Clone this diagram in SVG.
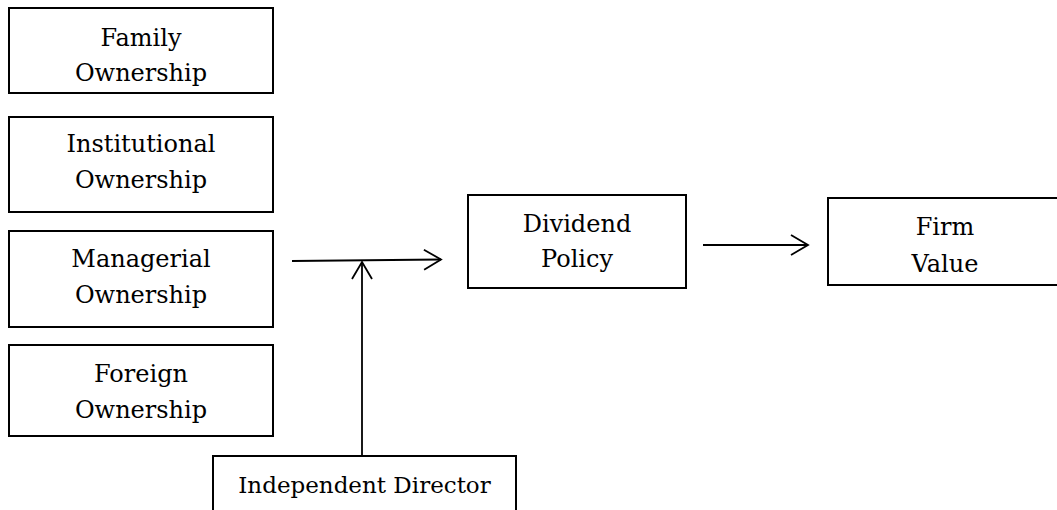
<svg xmlns="http://www.w3.org/2000/svg" width="1057" height="510" viewBox="0 0 1057 510">
<defs>
<style>
.box{fill:#fff;stroke:#000;stroke-width:2}
.t{font-family:"DejaVu Serif","Liberation Serif",serif;font-size:24px;fill:#000;text-anchor:middle}
.c{stroke:#000;stroke-width:1.8;fill:none}
</style>
<marker id="arr" viewBox="0 0 20 22" refX="18" refY="11" markerWidth="20" markerHeight="22" markerUnits="userSpaceOnUse" orient="auto">
<path d="M1,1 L18,11 L1,21" fill="none" stroke="#000" stroke-width="1.8"/>
</marker>
</defs>
<rect width="1057" height="510" fill="#fff"/>
<g id="family">
<rect class="box" x="9" y="8" width="264" height="85"/>
<text class="t" x="141" y="46">Family</text>
<text class="t" x="141" y="81">Ownership</text>
</g>
<g id="institutional">
<rect class="box" x="9" y="117" width="264" height="95"/>
<text class="t" x="141" y="152">Institutional</text>
<text class="t" x="141" y="188">Ownership</text>
</g>
<g id="managerial">
<rect class="box" x="9" y="231" width="264" height="96"/>
<text class="t" x="141" y="267">Managerial</text>
<text class="t" x="141" y="303">Ownership</text>
</g>
<g id="foreign">
<rect class="box" x="9" y="345" width="264" height="91"/>
<text class="t" x="141" y="382">Foreign</text>
<text class="t" x="141" y="418">Ownership</text>
</g>
<g id="dividend">
<rect class="box" x="468" y="195" width="218" height="93"/>
<text class="t" x="577" y="232">Dividend</text>
<text class="t" x="577" y="267">Policy</text>
</g>
<g id="firm">
<rect class="box" x="828" y="198" width="240" height="87"/>
<text class="t" x="945" y="235">Firm</text>
<text class="t" x="945" y="272">Value</text>
</g>
<g id="independent">
<rect class="box" x="213" y="456" width="303" height="70"/>
<text class="t" x="364.5" y="493" style="font-size:23px">Independent Director</text>
</g>
<g id="connectors">
<line class="c" x1="292" y1="261" x2="441" y2="259.5" marker-end="url(#arr)"/>
<line class="c" x1="362" y1="456" x2="362" y2="262" marker-end="url(#arr)"/>
<line class="c" x1="703" y1="245" x2="808" y2="245" marker-end="url(#arr)"/>
</g>
</svg>
